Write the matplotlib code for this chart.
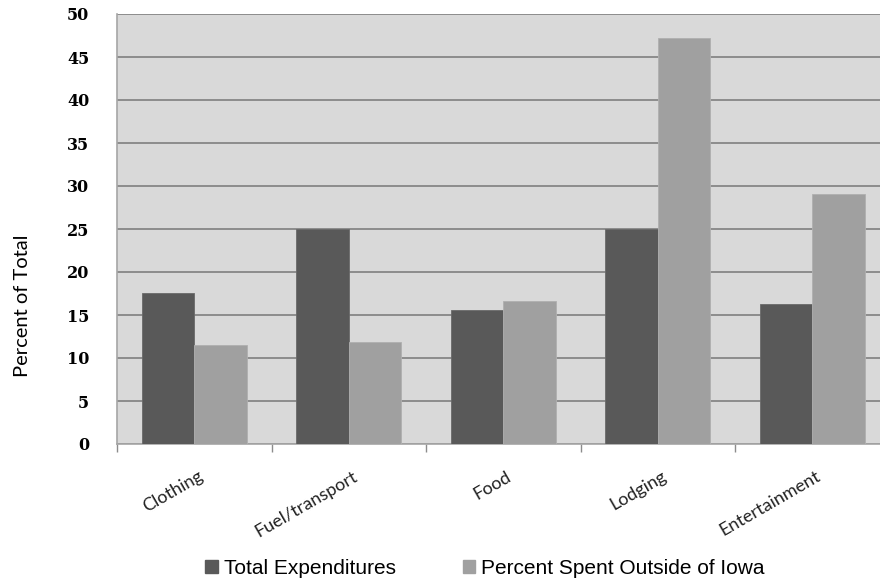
import matplotlib.pyplot as plt
import numpy as np
from matplotlib.patches import Patch

# Spending shares by category
categories = ["Clothing", "Fuel/transport", "Food", "Lodging", "Entertainment"]
total_expenditures = [17.6, 25.0, 15.6, 25.0, 16.3]
outside_iowa = [11.5, 11.9, 16.6, 47.2, 29.1]
series_labels = ["Total Expenditures", "Percent Spent Outside of Iowa"]

dark = "#595959"
light = "#a0a0a0"

fig = plt.figure(figsize=(8.8, 5.87), dpi=100)
ax = fig.add_axes([117 / 880, 1 - 444 / 587, 772.5 / 880, 430 / 587])
ax.set_facecolor("#d9d9d9")

x = np.arange(len(categories))
w = 0.34
ax.bar(x - w / 2, total_expenditures, w, color=dark, edgecolor="#6a6a6a", linewidth=0.6, zorder=3)
ax.bar(x + w / 2, outside_iowa, w, color=light, edgecolor="#b0b0b0", linewidth=0.6, zorder=3)

ax.set_xlim(-0.5, 4.5)
ax.set_ylim(0, 50)
ax.set_yticks(np.arange(0, 51, 5))
ax.yaxis.grid(True, color="#8c8c8c", linewidth=1.4, zorder=1)
ax.set_axisbelow(True)
ax.tick_params(axis="y", length=0, pad=20)
for lbl in ax.get_yticklabels():
    lbl.set_fontfamily("DejaVu Serif")
    lbl.set_fontweight("bold")
    lbl.set_fontsize(11.5)

# category boundaries carry the tick marks
ax.set_xticks(np.arange(-0.5, 5.0, 1.0))
ax.set_xticklabels([])
ax.tick_params(axis="x", length=6, color="#8c8c8c", width=1)
for i, name in enumerate(categories):
    ax.text(i + 0.02, -2.8, name, rotation=30, rotation_mode="anchor",
            ha="right", va="top", fontsize=13,
            family="Lato", color="#222222")

for side in ["top", "right"]:
    ax.spines[side].set_visible(False)
for side in ["left", "bottom"]:
    ax.spines[side].set_color("#a6a6a6")
    ax.spines[side].set_linewidth(1.2)

fig.text(22 / 880, 1 - 306 / 587, "Percent of Total", rotation=90,
         ha="center", va="center", fontsize=14.5, family="Lato")

handles = [Patch(color=dark), Patch(color=light)]
fig.legend(handles, series_labels, loc="center", bbox_to_anchor=(485 / 880, 1 - 568 / 587),
           ncol=2, frameon=False, handlelength=0.6, handleheight=0.6,
           handletextpad=0.3, columnspacing=3.2,
           prop={"family": "Liberation Sans", "size": 15})

fig.savefig("out.png", dpi=100)
